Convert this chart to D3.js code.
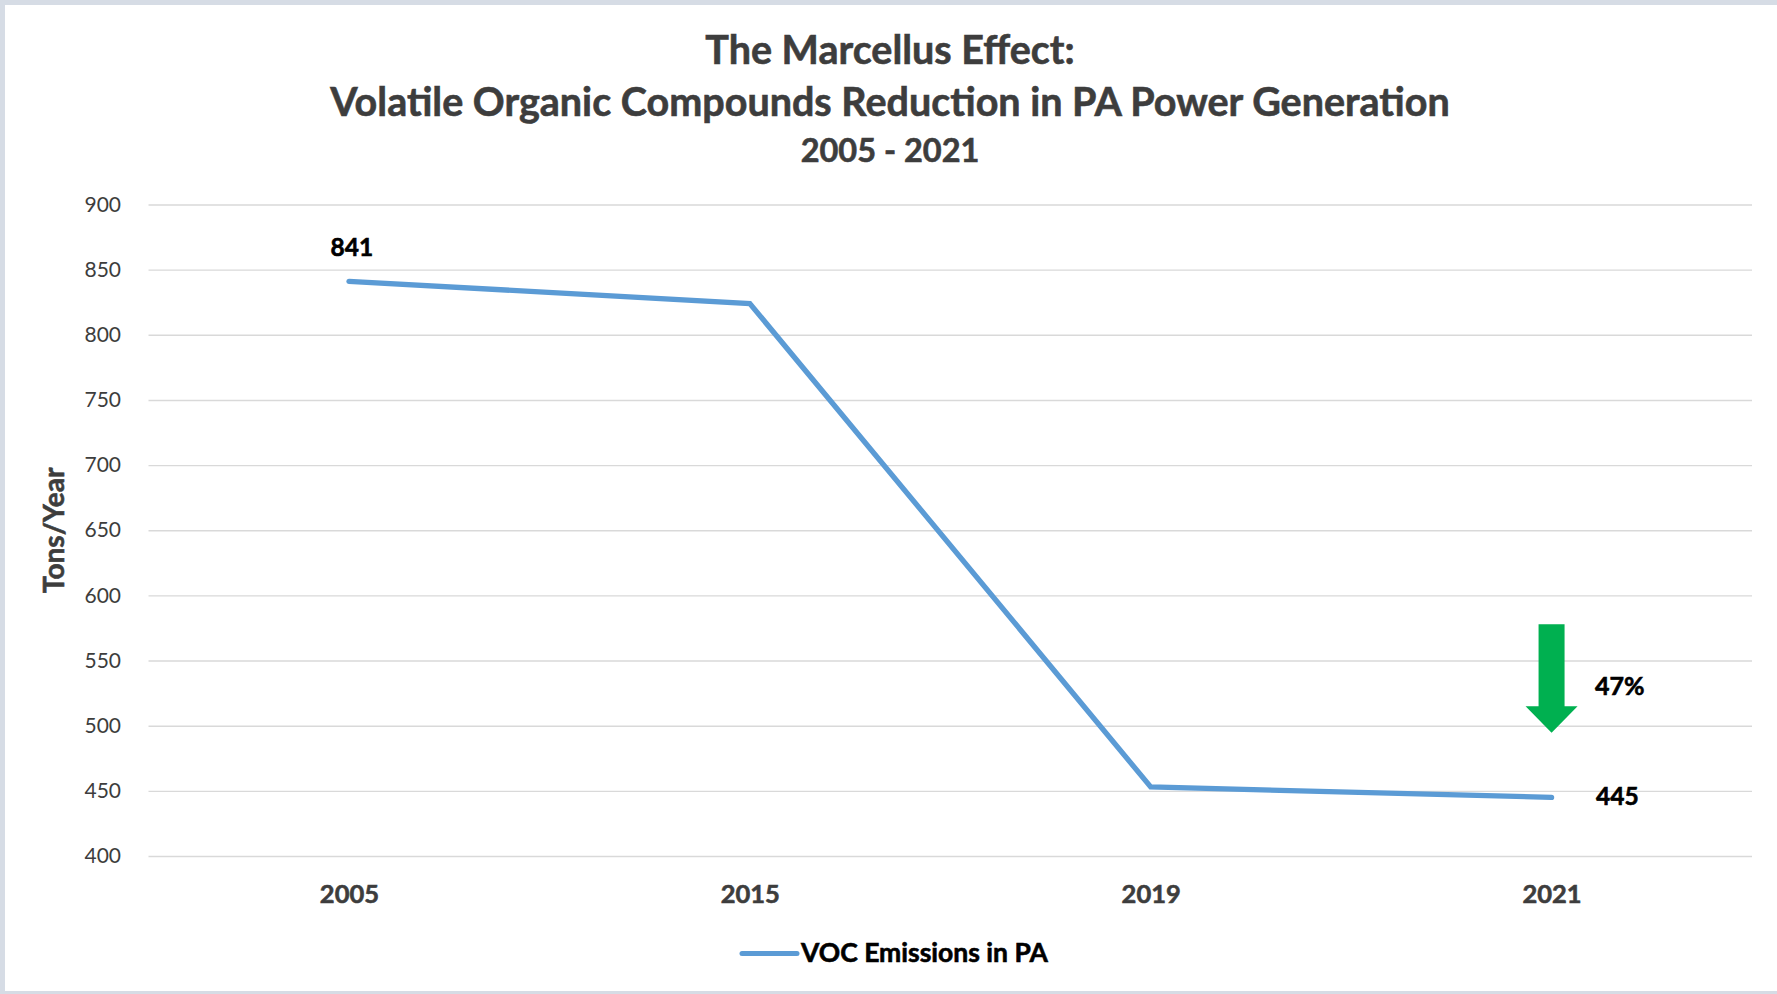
<!DOCTYPE html>
<html>
<head>
<meta charset="utf-8">
<script src="https://cdn.jsdelivr.net/npm/d3@7/dist/d3.min.js"></script>
<style>
  html, body { margin: 0; padding: 0; background: #ffffff; }
  svg { display: block; }
  text { font-family: Lato, "Open Sans", sans-serif; }
  text.heavy { stroke-width: 0.6px; paint-order: stroke; }
</style>
</head>
<body>
<svg id="chart" width="1777" height="994"></svg>
<script>
// ---- data ----
const categories = ["2005", "2015", "2019", "2021"];
const vocValues = [841, 824, 453, 445];
const yTickValues = [400, 450, 500, 550, 600, 650, 700, 750, 800, 850, 900];
const seriesName = "VOC Emissions in PA";
const titleLines = [
  "The Marcellus Effect:",
  "Volatile Organic Compounds Reduction in PA Power Generation",
  "2005 - 2021"
];
const yAxisTitle = "Tons/Year";

// ---- layout ----
const W = 1777, H = 994;
const plot = { left: 148.5, right: 1752, top: 204.5, bottom: 856 };
const lineColor = "#5B9BD5";
const arrowColor = "#00B050";
const textDark = "#3d3d3d";

const svg = d3.select("#chart");

// bold text helper: slight outline in the fill colour for a heavier weight
function heavy(sel, color) {
  return sel.attr("class", "heavy").attr("font-weight", "bold").attr("fill", color).attr("stroke", color);
}

// frame
svg.append("rect").attr("width", W).attr("height", H).attr("fill", "#d6dce5");
svg.append("rect").attr("x", 5).attr("y", 5).attr("width", W - 5).attr("height", H - 5 - 3).attr("fill", "#ffffff");

const x = d3.scalePoint().domain(categories).range([plot.left, plot.right]).padding(0.5);
const y = d3.scaleLinear().domain([400, 900]).range([plot.bottom, plot.top]);

// title
const titleX = 890;
const titleSpec = [
  { baseline: 63.5, size: 39.5 },
  { baseline: 116, size: 39.5 },
  { baseline: 162, size: 32.5 }
];
heavy(svg.append("g").selectAll("text").data(titleLines).join("text"), textDark)
  .attr("x", titleX)
  .attr("y", (d, i) => titleSpec[i].baseline)
  .attr("text-anchor", "middle")
  .attr("font-size", (d, i) => titleSpec[i].size)
  .text(d => d);

// y axis with gridlines
const yAxis = svg.append("g")
  .attr("transform", `translate(${plot.left},0)`)
  .call(d3.axisLeft(y).tickValues(yTickValues).tickSize(-(plot.right - plot.left)).tickPadding(27.5));
yAxis.select(".domain").remove();
yAxis.selectAll(".tick line").attr("stroke", "#d9d9d9").attr("stroke-width", 1.4);
yAxis.selectAll(".tick text")
  .attr("font-family", "Lato, sans-serif")
  .attr("font-size", 21)
  .attr("fill", textDark);

// x axis labels
const xAxis = svg.append("g")
  .attr("transform", `translate(0,${plot.bottom})`)
  .call(d3.axisBottom(x).tickSize(0).tickPadding(28.5));
xAxis.select(".domain").remove();
heavy(xAxis.selectAll(".tick text"), textDark)
  .attr("font-family", "Lato, sans-serif")
  .attr("font-size", 25.5);

// y axis title
heavy(svg.append("text"), textDark)
  .attr("transform", `translate(64,${(plot.top + plot.bottom) / 2}) rotate(-90)`)
  .attr("text-anchor", "middle")
  .attr("font-size", 28)
  .text(yAxisTitle);

// series line
const points = categories.map((c, i) => ({ cat: c, value: vocValues[i] }));
svg.append("path")
  .datum(points)
  .attr("fill", "none")
  .attr("stroke", lineColor)
  .attr("stroke-width", 5.3)
  .attr("stroke-linecap", "round")
  .attr("stroke-linejoin", "miter")
  .attr("d", d3.line().x(d => x(d.cat)).y(d => y(d.value)));

// data labels: first point above, last point to the right
const first = points[0], last = points[points.length - 1];
heavy(svg.append("text"), "#000")
  .attr("x", x(first.cat) + 3)
  .attr("y", y(first.value) - 25.5)
  .attr("text-anchor", "middle")
  .attr("font-size", 24.5)
  .text(first.value);
heavy(svg.append("text"), "#000")
  .attr("x", x(last.cat) + 44.5)
  .attr("y", y(last.value) + 8)
  .attr("font-size", 24.5)
  .text(last.value);

// reduction arrow and percentage
const ax = x(last.cat);
const ay = y(last.value);
const tipY = ay - 64.5, headTop = tipY - 26.5, shaftTop = ay - 173;
const shaftHalf = 13, headHalf = 26;
svg.append("path")
  .attr("fill", arrowColor)
  .attr("d", d3.line()([
    [ax - shaftHalf, shaftTop], [ax + shaftHalf, shaftTop], [ax + shaftHalf, headTop],
    [ax + headHalf, headTop], [ax, tipY], [ax - headHalf, headTop], [ax - shaftHalf, headTop]
  ]) + "Z");
const pct = Math.round((first.value - last.value) / first.value * 100);
heavy(svg.append("text"), "#000")
  .attr("x", ax + 43.5)
  .attr("y", ay - 102.5)
  .attr("font-size", 25)
  .text(pct + "%");

// legend
const legend = svg.append("g").attr("transform", "translate(742,953.5)");
legend.append("line")
  .attr("x1", 0).attr("x2", 55).attr("y1", 0).attr("y2", 0)
  .attr("stroke", lineColor).attr("stroke-width", 5).attr("stroke-linecap", "round");
heavy(legend.append("text"), "#000")
  .attr("x", 59).attr("y", 8.5)
  .attr("font-size", 26.5)
  .text(seriesName);
</script>
</body>
</html>
